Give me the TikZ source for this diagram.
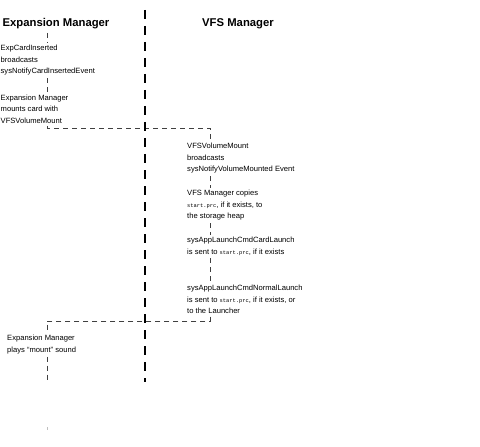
\documentclass[tikz,border=0pt]{standalone}
\usepackage{fontspec}
\setmainfont{Liberation Sans}
\setmonofont{Liberation Mono}
\newcommand\prcname{{\fontsize{5.4bp}{11.5bp}\selectfont\ttfamily start.prc}}
\begin{document}
\begin{tikzpicture}[x=1bp,y=-1bp,
  every node/.style={inner sep=0pt},
  head/.style={font=\fontsize{11.3bp}{13bp}\selectfont\bfseries, anchor=base},
  note/.style={font=\fontsize{7.6bp}{11.5bp}\selectfont, align=left, anchor=north west, fill=white, inner sep=2.5bp},
  lane/.style={line width=2.6bp, dash pattern=on 9bp off 7bp},
  flow/.style={line width=0.6bp, black!75, dash pattern=on 5bp off 4bp}]
\useasboundingbox (0,0) rectangle (480,447);
% headings
\node[head] (hexp) at (56,27) {Expansion Manager};
\node[head] (hvfs) at (238,27) {VFS Manager};
% notes
\node[note] (l1) at (-2,42.7) {ExpCardInserted\\broadcasts\\sysNotifyCardInsertedEvent};
\node[note] (l2) at (-2,92.2) {Expansion Manager\\mounts card with\\VFSVolumeMount};
\node[note] (va) at (184.5,140.7) {VFSVolumeMount\\broadcasts\\sysNotifyVolumeMounted Event};
\node[note] (vb) at (184.5,187.7) {VFS Manager copies\\\prcname, if it exists, to\\the storage heap};
\node[note] (vc) at (184.5,234.7) {sysAppLaunchCmdCardLaunch\\is sent to \prcname, if it exists};
\node[note] (vd) at (184.5,282.7) {sysAppLaunchCmdNormalLaunch\\is sent to \prcname, if it exists, or\\to the Launcher};
\node[note] (em) at (4.5,332.7) {Expansion Manager\\plays “mount” sound};
% flow path
\coordinate (t0) at (47,33);
\coordinate (c1) at (47,128);
\coordinate (c2) at (210,128);
\coordinate (c3) at (210,321);
\coordinate (c4) at (47,321);
\coordinate (t1) at (47,382);
\draw[flow] (t0) -- (t0 |- l1.north);
\draw[flow] (l1.south -| t0) -- (l2.north -| t0);
\draw[flow] (l2.south -| t0) -- (c1) -- (c2) -- (c2 |- va.north);
\draw[flow] (va.south -| c2) -- (vb.north -| c2);
\draw[flow] (vb.south -| c2) -- (vc.north -| c2);
\draw[flow] (vc.south -| c2) -- (vd.north -| c2);
\draw[flow] (vd.south -| c2) -- (c3) -- (c4) -- (c4 |- em.north);
\draw[flow] (em.south -| c4) -- (t1);
\draw[black!25, line width=0.5bp] (47,427) -- (47,429.5);
% lane separator
\coordinate (s0) at (145,10);
\coordinate (s1) at (145,382);
\draw[lane] (s0) -- (s1);
\end{tikzpicture}
\end{document}
